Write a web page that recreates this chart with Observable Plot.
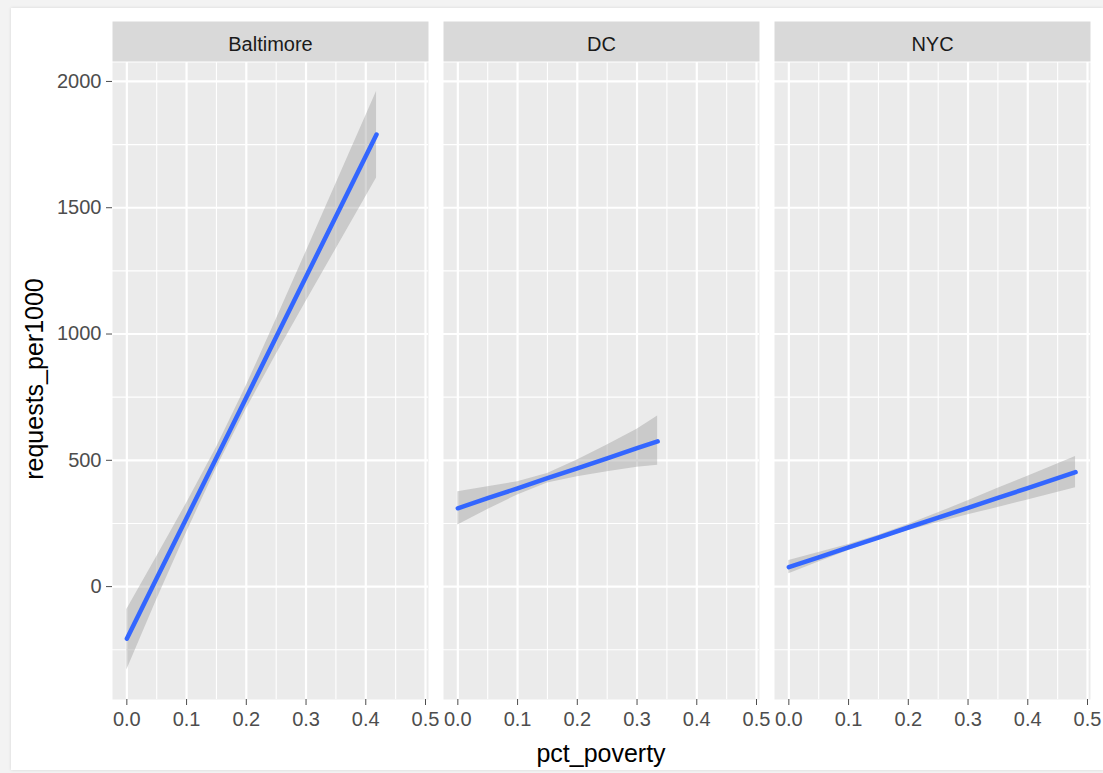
<!DOCTYPE html>
<html>
<head>
<meta charset="utf-8">
<script src="https://cdn.jsdelivr.net/npm/d3@7"></script>
<script src="https://cdn.jsdelivr.net/npm/@observablehq/plot@0.6"></script>
<style>
  html, body { margin: 0; padding: 0; background: #f3f3f3; width: 1103px; height: 773px; overflow: hidden; }
  #card { position: absolute; left: 11px; top: 8px; width: 1092px; height: 762px; background: #ffffff; box-shadow: 0 0 3px rgba(0,0,0,0.12); }
  #chart { position: absolute; left: 0; top: 0; }
  #titles { position: absolute; left: 0; top: 0; pointer-events: none; }
  #titles text { font-family: "Liberation Sans", Arial, Helvetica, sans-serif; font-size: 25px; fill: #000; }
</style>
</head>
<body>
<div id="card"><div id="chart"></div></div>
<svg id="titles" width="1103" height="773">
  <text x="601" y="762" text-anchor="middle">pct_poverty</text>
  <text transform="translate(43,379) rotate(-90)" text-anchor="middle">requests_per1000</text>
</svg>
<script>
// ---- Data (fitted line and confidence band per city) ----
const cities = ["Baltimore", "DC", "NYC"];

const baltimoreX    = [0, 0.05, 0.1, 0.15, 0.2, 0.25, 0.3, 0.35, 0.418];
const baltimoreFit  = [-206, 33, 272, 510, 749, 988, 1227, 1465, 1790];
const baltimoreLow  = [-330, -52, 214, 469, 703, 919, 1129, 1336, 1618];
const baltimoreHigh = [-91, 118, 330, 551, 795, 1057, 1325, 1594, 1960];

const dcX    = [0, 0.05, 0.1, 0.15, 0.2, 0.25, 0.3, 0.3345];
const dcFit  = [310, 350, 389, 429, 468, 508, 548, 575];
const dcLow  = [244, 305, 363, 410, 435, 455, 473, 480];
const dcHigh = [376, 395, 415, 448, 501, 561, 623, 675];

const nycX    = [0, 0.05, 0.1, 0.15, 0.2, 0.25, 0.3, 0.35, 0.4, 0.48];
const nycFit  = [77, 116, 155, 194, 234, 273, 312, 351, 390, 453];
const nycLow  = [51, 97, 143, 185, 222, 254, 284, 313, 343, 391];
const nycHigh = [103, 135, 167, 203, 246, 292, 340, 389, 437, 515];

const xMajorTicks = [0, 0.1, 0.2, 0.3, 0.4, 0.5];
const xMinorTicks = [0.05, 0.15, 0.25, 0.35, 0.45];
const yMajorTicks = [0, 500, 1000, 1500, 2000];
const yMinorTicks = [-250, 250, 750, 1250, 1750];

// ---- Build tables for Plot ----
const bandRows = [];
const lineRows = [];
function addCity(city, xs, fit, lo, hi) {
  xs.forEach((x, i) => {
    bandRows.push({city, x, lo: lo[i], hi: hi[i]});
    lineRows.push({city, x, y: fit[i]});
  });
}
addCity("Baltimore", baltimoreX, baltimoreFit, baltimoreLow, baltimoreHigh);
addCity("DC", dcX, dcFit, dcLow, dcHigh);
addCity("NYC", nycX, nycFit, nycLow, nycHigh);

const font = "'Liberation Sans', Arial, Helvetica, sans-serif";

const chart = Plot.plot({
  width: 1092,
  height: 762,
  marginLeft: 101,
  marginRight: 13,
  marginTop: 54,
  marginBottom: 71,
  style: {fontFamily: font, fontSize: "20px", background: "transparent", overflow: "visible"},
  fx: {domain: cities, paddingInner: 15 / 331, paddingOuter: 0, axis: null, label: null},
  x: {domain: [-0.024, 0.505], label: null},
  y: {domain: [-447, 2075], label: null},
  marks: [
    // panel background
    Plot.frame({fill: "#EBEBEB"}),
    // strip background
    Plot.frame({fill: "#D9D9D9", insetTop: -41, insetBottom: 638}),
    // grid
    Plot.gridY({ticks: yMinorTicks, stroke: "#ffffff", strokeOpacity: 1, strokeWidth: 1.1}),
    Plot.gridX({ticks: xMinorTicks, stroke: "#ffffff", strokeOpacity: 1, strokeWidth: 1.1}),
    Plot.gridY({ticks: yMajorTicks, stroke: "#ffffff", strokeOpacity: 1, strokeWidth: 2.2}),
    Plot.gridX({ticks: xMajorTicks, stroke: "#ffffff", strokeOpacity: 1, strokeWidth: 2.2}),
    // confidence band
    Plot.areaY(bandRows, {x: "x", y1: "lo", y2: "hi", fx: "city", fill: "#999999", fillOpacity: 0.4}),
    // fitted line
    Plot.line(lineRows, {x: "x", y: "y", fx: "city", stroke: "#3366FF", strokeWidth: 4.5}),
    // strip labels
    Plot.text(cities, {fx: d => d, text: d => d, frameAnchor: "top", lineAnchor: "bottom", dy: -11.5, fontSize: 20, fill: "#1A1A1A"}),
    // axes
    Plot.axisY({ticks: yMajorTicks, tickFormat: d3.format("d"), tickSize: 6, tickPadding: 5, fontSize: 20, color: "#4D4D4D", label: null}),
    Plot.axisX({ticks: xMajorTicks, tickFormat: d3.format(".1f"), tickSize: 6, tickPadding: 6, fontSize: 20, color: "#4D4D4D", label: null})
  ]
});
document.getElementById("chart").appendChild(chart);
</script>
</body>
</html>
